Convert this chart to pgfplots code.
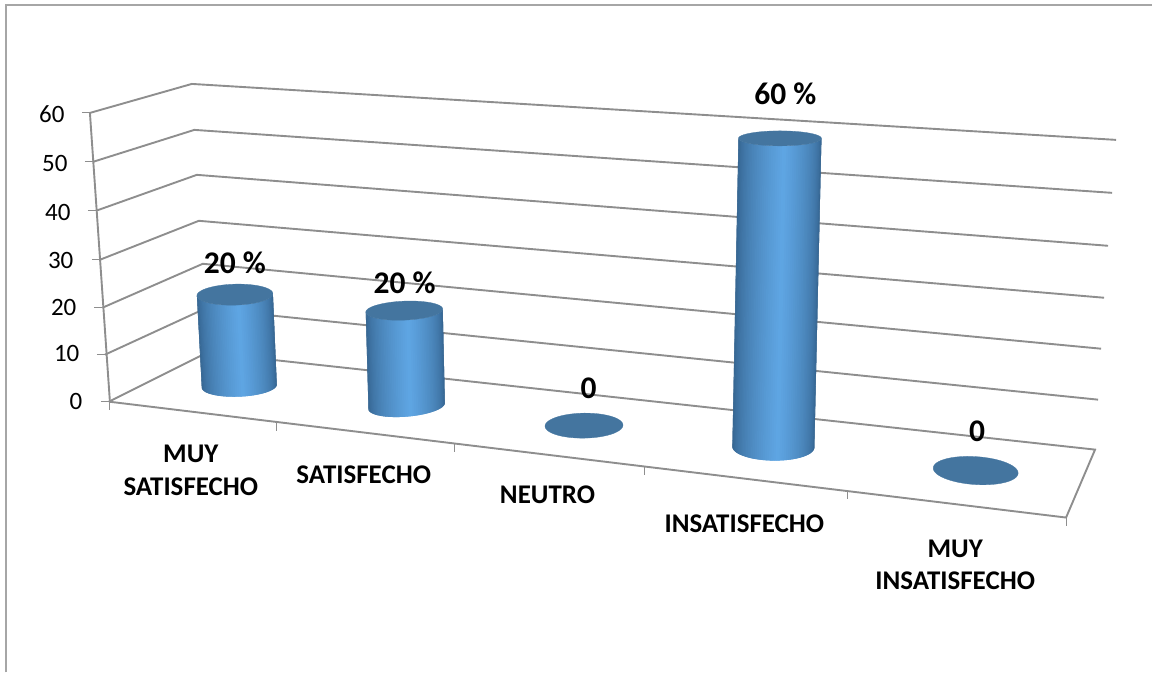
\documentclass[border=0pt]{standalone}
\usepackage{pgfplots}
\usepackage{pgfplotstable}
\usepackage{fontspec}
\setmainfont{Carlito}
\pgfplotsset{compat=1.18}

\definecolor{rejilla}{HTML}{8E8E8E}
\definecolor{marco}{HTML}{A6A6A6}
\definecolor{cylLight}{HTML}{5FA6E4}
\definecolor{cylDark}{HTML}{33618C}
\definecolor{cylTop}{HTML}{44759F}

% Porcentaje de respuestas por categoria
\pgfplotstableread{
pos valor
0 20
1 20
2 0
3 60
4 0
}\datos

% #1 value, #2-#3 base centre, #4-#5 base radii, #6 base tilt, #7 px per unit,
% #8 lean per unit, #9-#10 cap radii, #11 cap tilt
\newcommand{\cilindro}[2]{\cilindroB{#1}#2}
\newcommand{\cilindroB}[9]{%
  \def\vv{#1}\def\bx{#2}\def\by{#3}\def\brx{#4}\def\bry{#5}\def\bt{#6}\def\un{#7}\def\le{#8}\def\trx{#9}%
  \cilindroC}
\newcommand{\cilindroC}[2]{%
  \def\try{#1}\def\tt{#2}%
  \pgfmathsetmacro\tcx{\bx+\vv*\le}%
  \pgfmathsetmacro\tcy{\by-\vv*\un}%
  \pgfmathparse{\vv>0?1:0}%
  \ifnum\pgfmathresult>0
    % slices painted left to right, each one overlapping the next
    \pgfplotsforeachungrouped \i in {0,...,59}{%
      \pgfmathsetmacro\aa{180-\i*3}%
      \pgfmathsetmacro\ab{max(0,180-(\i+2)*3)}%
      \pgfmathsetmacro\uu{(1+cos(\aa-1.5))/2}%
      \pgfmathsetmacro\pp{\uu<0.55?100*(\uu/0.55)^0.6:100*((1-\uu)/0.45)^0.55}%
      \pgfmathsetmacro\xa{\bx+\brx*cos(\aa)}%
      \pgfmathsetmacro\ya{\by+\bry*sin(\aa)+\bt*cos(\aa)}%
      \pgfmathsetmacro\xb{\bx+\brx*cos(\ab)}%
      \pgfmathsetmacro\yb{\by+\bry*sin(\ab)+\bt*cos(\ab)}%
      \pgfmathsetmacro\xc{\tcx+\trx*cos(\ab)}%
      \pgfmathsetmacro\yc{\tcy+\try*sin(\ab)+\tt*cos(\ab)}%
      \pgfmathsetmacro\xd{\tcx+\trx*cos(\aa)}%
      \pgfmathsetmacro\yd{\tcy+\try*sin(\aa)+\tt*cos(\aa)}%
      \edef\tmp{\noexpand\addplot[forget plot,fill={cylLight!\pp!cylDark},draw=none]
        coordinates {(\xa,\ya) (\xb,\yb) (\xc,\yc) (\xd,\yd) (\xa,\ya)};}%
      \tmp
    }%
  \fi
  % upper face of the cylinder
  \def\lista{}%
  \pgfplotsforeachungrouped \i in {0,...,60}{%
    \pgfmathsetmacro\aa{\i*6}%
    \pgfmathsetmacro\xa{\tcx+\trx*cos(\aa)}%
    \pgfmathsetmacro\ya{\tcy+\try*sin(\aa)+\tt*cos(\aa)}%
    \edef\lista{\lista (\xa,\ya)}%
  }%
  \edef\tmp{\noexpand\addplot[forget plot,fill=cylTop,draw=cylTop,line width=0.3pt] coordinates {\lista};}%
  \tmp
}

\newcommand{\valor}[1]{\pgfplotstablegetelem{#1}{valor}\of\datos\edef\vv{\pgfplotsretval}}

\begin{document}
\begin{tikzpicture}
\begin{axis}[
  scale only axis, width=1153pt, height=673pt,
  xmin=0, xmax=1153, ymin=0, ymax=673, y dir=reverse,
  axis lines=none, clip=false,
]
% keeps the whole plotting area inside the picture
\addplot[forget plot,draw=none] coordinates {(0,0) (1153,673)};

% chart area border
\addplot[forget plot,marco,line width=2pt] coordinates {(6,673) (6,5.3) (1153,5.3)};

% back wall gridlines: front-left, back-left, right end
\addplot[forget plot,rejilla,line width=1.9pt] coordinates {(90,113) (192,84) (1117,140)};
\addplot[forget plot,rejilla,line width=1.9pt] coordinates {(93,162) (194.5,130) (1113,193)};
\addplot[forget plot,rejilla,line width=1.9pt] coordinates {(96,211) (197,175) (1109,246)};
\addplot[forget plot,rejilla,line width=1.9pt] coordinates {(100,260) (199,221) (1105,298)};
\addplot[forget plot,rejilla,line width=1.9pt] coordinates {(102.5,308) (203,264) (1102,349)};
\addplot[forget plot,rejilla,line width=1.9pt] coordinates {(105,355) (205,309) (1099,400)};
\addplot[forget plot,rejilla,line width=1.9pt] coordinates {(109,402) (207,353) (1096,450) (1067,518) (109,402)};

% value axis with its ticks
\addplot[forget plot,rejilla,line width=1.9pt] coordinates {(90,113) (110,402)};
\addplot[forget plot,rejilla,line width=0.9pt] coordinates {(82,113) (90,113)};
\addplot[forget plot,rejilla,line width=0.9pt] coordinates {(85,162) (93,162)};
\addplot[forget plot,rejilla,line width=0.9pt] coordinates {(88,211) (96,211)};
\addplot[forget plot,rejilla,line width=0.9pt] coordinates {(92,260) (100,260)};
\addplot[forget plot,rejilla,line width=0.9pt] coordinates {(94.5,308) (102.5,308)};
\addplot[forget plot,rejilla,line width=0.9pt] coordinates {(97,355) (105,355)};
\addplot[forget plot,rejilla,line width=0.9pt] coordinates {(101,402) (109,402)};

% category ticks below the floor edge
\addplot[forget plot,rejilla,line width=0.9pt] coordinates {(109.5,402) (109.5,410)};
\addplot[forget plot,rejilla,line width=0.9pt] coordinates {(277,423) (277,431)};
\addplot[forget plot,rejilla,line width=0.9pt] coordinates {(455,444.5) (455,452.5)};
\addplot[forget plot,rejilla,line width=0.9pt] coordinates {(645,467.5) (645,475.5)};
\addplot[forget plot,rejilla,line width=0.9pt] coordinates {(848,491.5) (848,499.5)};
\addplot[forget plot,rejilla,line width=0.9pt] coordinates {(1067,518) (1067,526)};

% cylinders: the height follows each value of the table
\valor{0}\edef\va{\vv}
\valor{1}\edef\vb{\vv}
\valor{2}\edef\vc{\vv}
\valor{3}\edef\vd{\vv}
\valor{4}\edef\ve{\vv}
\cilindro{\va}{{239.5}{386.5}{37.5}{10.5}{-1.5}{4.58}{-0.22}{38}{10.5}{-1}}{}{}
\cilindro{\vb}{{407}{406.5}{38.2}{10.5}{-3}{4.78}{-0.12}{38.5}{9.5}{-1.5}}{}{}
\cilindro{\vc}{{584.5}{426}{39}{12.5}{-0.5}{5}{0}{39}{12.5}{-0.5}}{}{}
\cilindro{\vd}{{774}{447.5}{41}{13.5}{0.5}{5.15}{0.11}{41.5}{7.5}{0}}{}{}
\cilindro{\ve}{{976.5}{471}{42.5}{14}{2.5}{5}{0}{42.5}{14}{2.5}}{}{}

% value axis numbers
\node[anchor=east,font=\fontsize{25}{30}\selectfont] at (axis cs:68,114) {60};
\node[anchor=east,font=\fontsize{25}{30}\selectfont] at (axis cs:71,164) {50};
\node[anchor=east,font=\fontsize{25}{30}\selectfont] at (axis cs:74,213) {40};
\node[anchor=east,font=\fontsize{25}{30}\selectfont] at (axis cs:77,261) {30};
\node[anchor=east,font=\fontsize{25}{30}\selectfont] at (axis cs:80,308) {20};
\node[anchor=east,font=\fontsize{25}{30}\selectfont] at (axis cs:83,354) {10};
\node[anchor=east,font=\fontsize{25}{30}\selectfont] at (axis cs:86,402) {0};

% category names
\node[align=center,font=\bfseries\fontsize{27}{33}\selectfont] at (axis cs:191,471) {MUY\\SATISFECHO};
\node[font=\bfseries\fontsize{27}{33}\selectfont] at (axis cs:364,475) {SATISFECHO};
\node[font=\bfseries\fontsize{27}{33}\selectfont] at (axis cs:548,495) {NEUTRO};
\node[font=\bfseries\fontsize{27}{33}\selectfont] at (axis cs:745,524) {INSATISFECHO};
\node[align=center,font=\bfseries\fontsize{27}{32}\selectfont] at (axis cs:956,565) {MUY\\INSATISFECHO};

% value labels
\node[font=\bfseries\fontsize{31.5}{36}\selectfont] at (axis cs:235,263) {20 \%};
\node[font=\bfseries\fontsize{31.5}{36}\selectfont] at (axis cs:405,283) {20 \%};
\node[font=\bfseries\fontsize{31.5}{36}\selectfont] at (axis cs:589,389) {0};
\node[font=\bfseries\fontsize{31.5}{36}\selectfont] at (axis cs:786,94) {60 \%};
\node[font=\bfseries\fontsize{31.5}{36}\selectfont] at (axis cs:978,432) {0};
\end{axis}
\end{tikzpicture}
\end{document}
